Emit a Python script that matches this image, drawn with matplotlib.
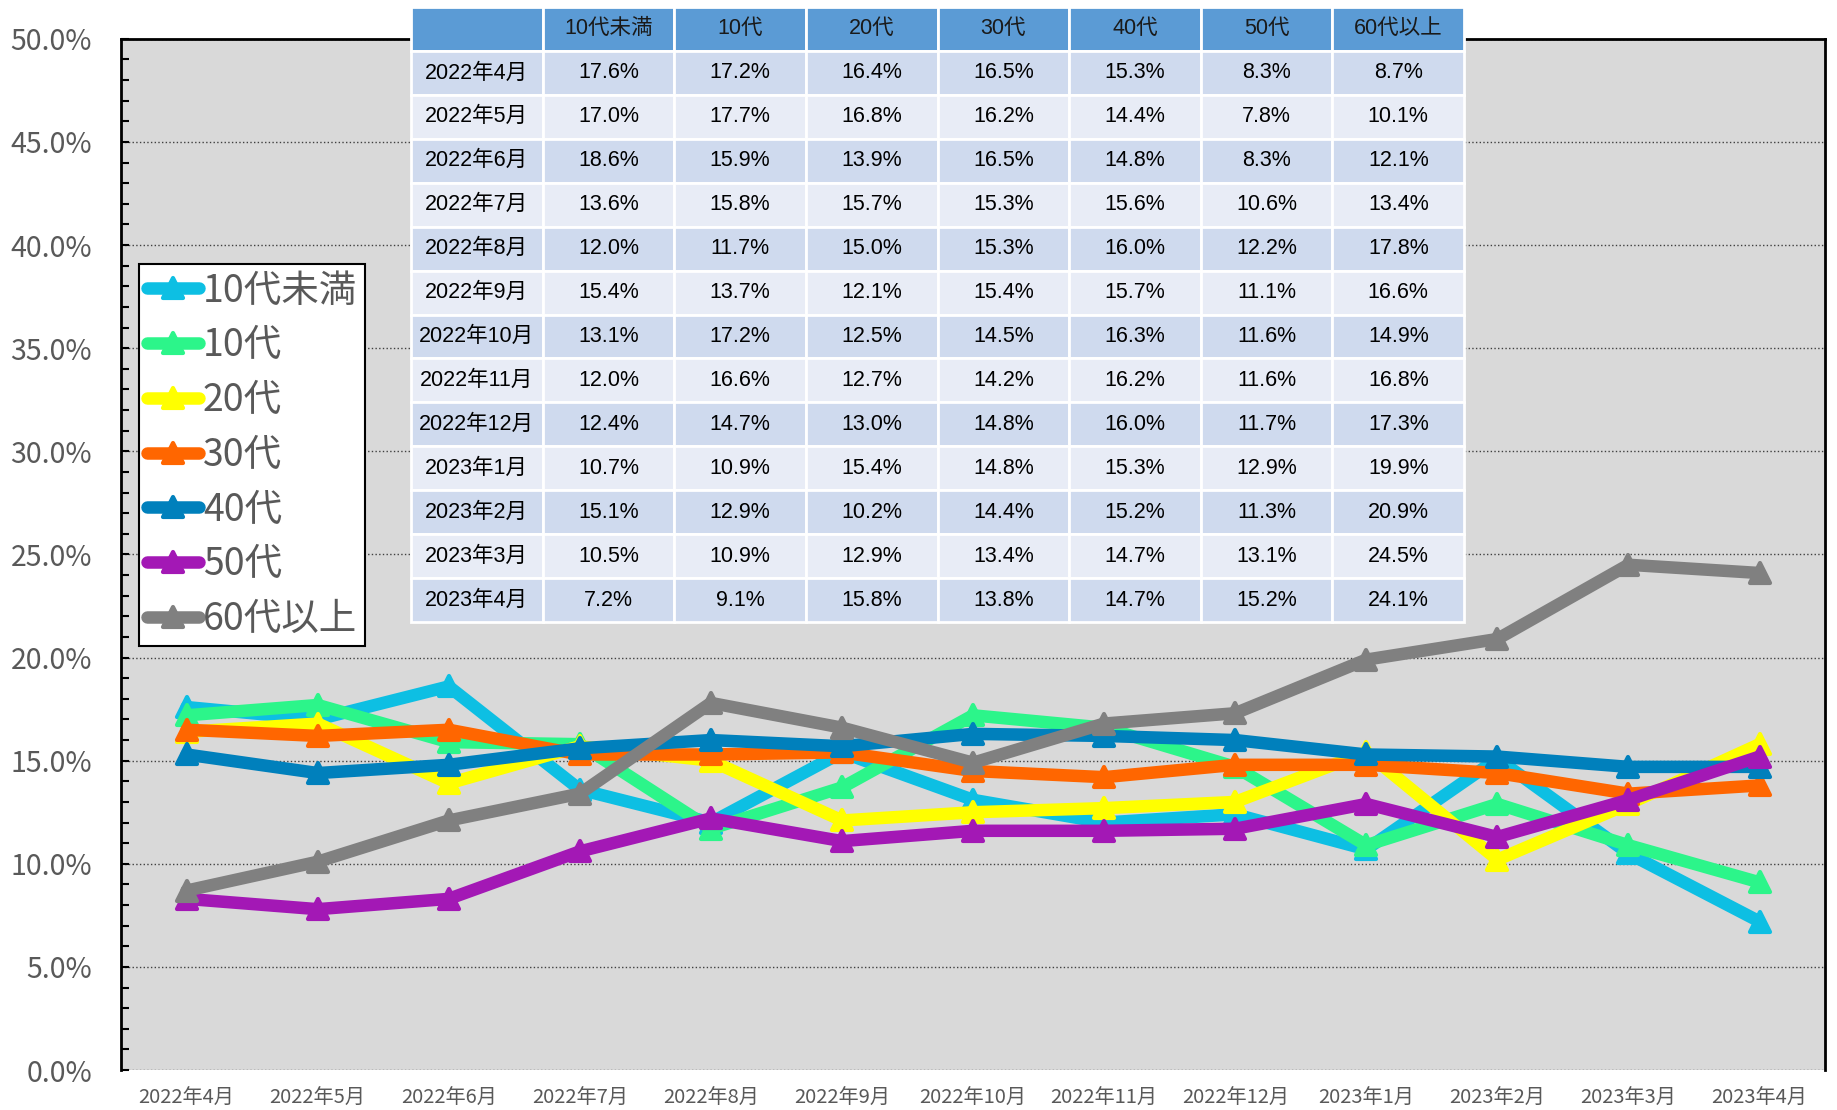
import matplotlib
matplotlib.use('Agg')
import matplotlib.pyplot as plt
from matplotlib.markers import MarkerStyle
from matplotlib.ticker import MultipleLocator, PercentFormatter

plt.rcParams['font.family'] = ['Noto Sans CJK JP', 'DejaVu Sans']

# Data (percent)
months = ['2022年4月', '2022年5月', '2022年6月', '2022年7月', '2022年8月', '2022年9月',
          '2022年10月', '2022年11月', '2022年12月', '2023年1月', '2023年2月', '2023年3月',
          '2023年4月']
groups = ['10代未満', '10代', '20代', '30代', '40代', '50代', '60代以上']
under10 = [17.6, 17.0, 18.6, 13.6, 12.0, 15.4, 13.1, 12.0, 12.4, 10.7, 15.1, 10.5, 7.2]
teens = [17.2, 17.7, 15.9, 15.8, 11.7, 13.7, 17.2, 16.6, 14.7, 10.9, 12.9, 10.9, 9.1]
twenties = [16.4, 16.8, 13.9, 15.7, 15.0, 12.1, 12.5, 12.7, 13.0, 15.4, 10.2, 12.9, 15.8]
thirties = [16.5, 16.2, 16.5, 15.3, 15.3, 15.4, 14.5, 14.2, 14.8, 14.8, 14.4, 13.4, 13.8]
forties = [15.3, 14.4, 14.8, 15.6, 16.0, 15.7, 16.3, 16.2, 16.0, 15.3, 15.2, 14.7, 14.7]
fifties = [8.3, 7.8, 8.3, 10.6, 12.2, 11.1, 11.6, 11.6, 11.7, 12.9, 11.3, 13.1, 15.2]
over60 = [8.7, 10.1, 12.1, 13.4, 17.8, 16.6, 14.9, 16.8, 17.3, 19.9, 20.9, 24.5, 24.1]
series = [under10, teens, twenties, thirties, forties, fifties, over60]
colors = ['#0DBFE3', '#2CF58A', '#FFFF00', '#FF6600', '#0080BC', '#A318B5', '#808080']

fig = plt.figure(figsize=(18.37, 11.10), dpi=100)
ax = fig.add_axes([0.0659, 0.036, 0.9276, 0.929])
ax.set_facecolor('#D9D9D9')

x = list(range(len(months)))
marker = MarkerStyle('^', joinstyle='round')
for name, vals, c in zip(groups, series, colors):
    ax.plot(x, vals, color=c, lw=9, marker=marker, markersize=14, mew=3,
            mec=c, mfc=c, solid_joinstyle='round', solid_capstyle='round', label=name)

ax.set_xlim(-0.5, len(months) - 0.5)
ax.set_ylim(0, 50)
ax.set_xticks(x)
ax.set_xticklabels(months, fontsize=14.5, color='#595959')
ax.tick_params(axis='x', length=0, pad=13)
ax.yaxis.set_major_locator(MultipleLocator(5))
ax.yaxis.set_minor_locator(MultipleLocator(1))
ax.yaxis.set_major_formatter(PercentFormatter(decimals=1))
ax.tick_params(axis='y', which='both', direction='in', length=6, width=1.5,
               labelsize=20.5, labelcolor='#595959', pad=21)
ax.grid(axis='y', which='major', linestyle=':', color='#404040', lw=1)
for side in ['left', 'top', 'right']:
    ax.spines[side].set_linewidth(2)
    ax.spines[side].set_color('black')
ax.spines['bottom'].set_visible(False)

leg = ax.legend(loc='upper left', bbox_to_anchor=(0.0757, 0.7622),
                bbox_transform=fig.transFigure, borderaxespad=0, fontsize=27,
                handlelength=1.4, handletextpad=0.1, labelspacing=0.42,
                borderpad=0.2, fancybox=False, framealpha=1, edgecolor='black')
leg.get_frame().set_linewidth(1.5)
for t in leg.get_texts():
    t.set_color('#595959')

# Data table on top of the chart
tax = fig.add_axes([0.2237, 0.4396, 0.5733, 0.5541])
tax.axis('off')
rows = [[m] + ['%.1f%%' % s[i] for s in series] for i, m in enumerate(months)]
tbl = tax.table(cellText=rows, colLabels=[''] + groups, bbox=[0, 0, 1, 1],
                cellLoc='center')
tbl.auto_set_font_size(False)
for (r, c), cell in tbl.get_celld().items():
    cell.set_edgecolor('white')
    cell.set_linewidth(2)
    txt = cell.get_text()
    txt.set_fontfamily(['Liberation Sans', 'Noto Sans CJK JP'])
    txt.set_fontsize(15.5)
    if r == 0:
        cell.set_facecolor('#5B9BD5')
        txt.set_color('#1A1A1A')
    else:
        cell.set_facecolor('#CFDAEE' if r % 2 == 1 else '#E8ECF6')
        txt.set_color('black')

fig.savefig('out.png', dpi=100)
